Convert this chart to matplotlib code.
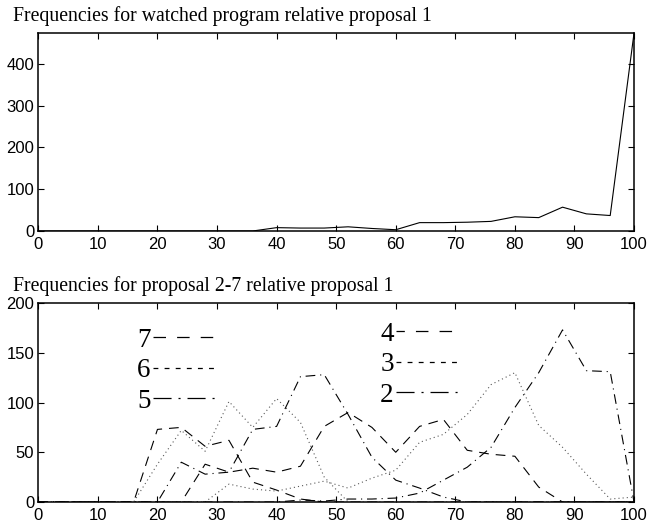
import matplotlib
matplotlib.use("Agg")
import matplotlib.pyplot as plt
from matplotlib.lines import Line2D

# x grid (percent), step 4
x = list(range(0, 101, 4))

# top panel: watched program relative proposal 1
watched = [0, 0, 0, 0, 0, 0, 0, 0, 0, 0,
           8, 7, 7, 10, 6, 3, 20, 20, 21, 23, 34, 32, 57, 41, 37, 474]

# bottom panel: proposals 2-7 relative proposal 1
p7 = [0, 0, 0, 0, 0, 73, 75, 56, 62, 20, 12, 3, 0,
      0, 0, 0, 0, 0, 0, 0, 0, 0, 0, 0, 0, 0]
p6 = [0, 0, 0, 0, 0, 38, 72, 51, 101, 75, 104, 80, 25,
      0, 0, 0, 0, 0, 0, 0, 0, 0, 0, 0, 0, 0]
p5 = [0, 0, 0, 0, 0, 0, 40, 28, 30, 73, 76, 126, 128,
      88, 45, 22, 14, 5, 0, 0, 0, 0, 0, 0, 0, 0]
p4 = [0, 0, 0, 0, 0, 0, 0, 38, 30, 34, 30, 36, 76,
      90, 75, 50, 76, 83, 52, 48, 46, 15, 0, 0, 0, 0]
p3 = [0, 0, 0, 0, 0, 0, 0, 0, 18, 13, 11, 16, 21,
      14, 24, 32, 60, 68, 88, 118, 130, 77, 55, 28, 3, 5]
p2 = [0, 0, 0, 0, 0, 0, 0, 0, 0, 0, 0, 2, 1,
      3, 3, 4, 9, 22, 35, 55, 95, 130, 173, 132, 131, 0]

labels = ["7", "6", "5", "4", "3", "2"]

plt.rcParams["lines.scale_dashes"] = False
plt.rcParams["font.family"] = "Liberation Sans"

DASH = (0, (7, 5))
DASHDOT = (0, (7, 3.5, 0.8, 3.5))
DOT = (0, (0.8, 2.2))
styles = [DASH, DOT, DASHDOT, DASH, DOT, DASHDOT]
# legend samples drawn a bit coarser, like the original
leg_styles = [(0, (9, 8)), (0, (3.5, 4.5)), (0, (13, 5, 1.5, 5)),
              (3, (9, 8)), (0, (3.5, 4.5)), (0, (13, 5, 1.5, 5))]

fig = plt.figure(figsize=(6.55, 5.27), dpi=100)
ax1 = fig.add_axes([0.0585, 0.5617, 0.9095, 0.3757])
ax2 = fig.add_axes([0.0585, 0.0474, 0.9095, 0.3776])

ax1.plot(x, watched, color="k", linewidth=0.8)
ax1.set_xlim(0, 100)
ax1.set_ylim(0, max(watched))
ax1.set_yticks([0, 100, 200, 300, 400])

series = [p7, p6, p5, p4, p3, p2]
for s, ls in zip(series, styles):
    col = "0.35" if ls is DOT else "k"
    ax2.plot(x, s, color=col, linestyle=ls, linewidth=0.8)
ax2.set_xlim(0, 100)
ax2.set_ylim(0, 200)
ax2.set_yticks([0, 50, 100, 150, 200])

for ax in (ax1, ax2):
    ax.set_xticks(range(0, 101, 10))
    ax.tick_params(direction="in", length=4, width=0.8, top=True, right=True,
                   labelsize=12, pad=3)
    ax.tick_params(axis="x", pad=4.5)
    for sp in ax.spines.values():
        sp.set_linewidth(1.1)

ax1.text(-0.0425, 1.06, "Frequencies for watched program relative proposal 1",
         transform=ax1.transAxes, family="Liberation Serif", fontsize=14.2,
         ha="left", va="baseline")
ax2.text(-0.0425, 1.06, "Frequencies for proposal 2-7 relative proposal 1",
         transform=ax2.transAxes, family="Liberation Serif", fontsize=14.2,
         ha="left", va="baseline")

handles = [Line2D([], [], color="k", linewidth=0.9, linestyle=ls) for ls in leg_styles]
leg_kw = dict(frameon=False, markerfirst=False, handlelength=2.3, handletextpad=0.1,
              labelspacing=0.2, borderpad=0, borderaxespad=0,
              prop={"family": "Liberation Serif", "size": 19.5})
leg1 = ax2.legend(handles[:3], labels[:3], loc="upper left",
                  bbox_to_anchor=(0.166, 0.875), **leg_kw)
ax2.add_artist(leg1)
ax2.legend(handles[3:], labels[3:], loc="upper left",
           bbox_to_anchor=(0.5736, 0.905), **leg_kw)

fig.savefig("out.png", dpi=100)
